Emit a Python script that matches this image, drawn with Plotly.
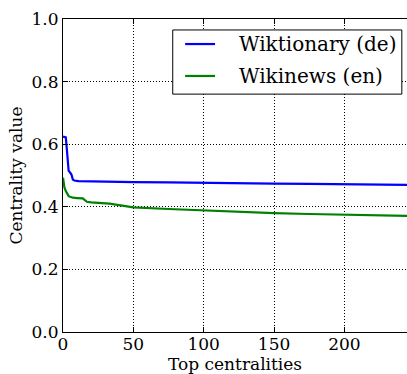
import plotly.graph_objects as go

# Data
wikt_x = [0, 1, 2, 3, 4, 5, 6, 7, 8, 11, 20, 33, 50, 75, 100, 125, 150, 175, 200, 225, 245]
wikt_y = [0.624, 0.624, 0.622, 0.57, 0.515, 0.51, 0.503, 0.487, 0.484, 0.482, 0.481, 0.480, 0.479, 0.478, 0.476, 0.475, 0.474, 0.473, 0.472, 0.471, 0.470]

news_x = [0, 1, 2, 3, 4, 5, 7, 10, 14, 17, 20, 33, 50, 75, 100, 125, 150, 175, 200, 225, 245]
news_y = [0.493, 0.462, 0.45, 0.44, 0.434, 0.432, 0.429, 0.428, 0.427, 0.416, 0.414, 0.410, 0.398, 0.393, 0.388, 0.384, 0.380, 0.377, 0.374, 0.372, 0.371]

names = ["Wiktionary (de)", "Wikinews (en)"]
colors = ["#0000ff", "#008000"]
x_ticks = [0, 50, 100, 150, 200]
y_ticks = [0.0, 0.2, 0.4, 0.6, 0.8, 1.0]
x_title = "Top centralities"
y_title = "Centrality value"

FONT = "DejaVu Serif"

fig = go.Figure()
for xs, ys, nm, c in [(wikt_x, wikt_y, names[0], colors[0]), (news_x, news_y, names[1], colors[1])]:
    fig.add_trace(go.Scatter(x=xs, y=ys, mode="lines", name=nm,
                             line=dict(color=c, width=2.2), showlegend=False))

# Matplotlib-style legend box drawn with shapes and text annotations
fig.add_shape(type="rect", xref="paper", yref="paper", x0=0.319, x1=0.985, y0=0.760, y1=0.965,
              line=dict(color="black", width=1), fillcolor="white", layer="above")
leg_y = [0.920, 0.818]
for i, (nm, c) in enumerate(zip(names, colors)):
    fig.add_shape(type="line", xref="paper", yref="paper", x0=0.355, x1=0.442,
                  y0=leg_y[i], y1=leg_y[i], line=dict(color=c, width=2.2), layer="above")
    fig.add_annotation(xref="paper", yref="paper", x=0.505, y=leg_y[i], text=nm,
                       showarrow=False, xanchor="left", yanchor="middle",
                       font=dict(family=FONT, size=20, color="black"))

# x-axis title as annotation for precise placement
fig.add_annotation(xref="paper", yref="paper", x=0.5, y=0, yshift=-20, text=x_title,
                   showarrow=False, xanchor="center", yanchor="top",
                   font=dict(family=FONT, size=17, color="black"))

fig.update_layout(
    width=407, height=374,
    margin=dict(l=63, r=0, t=19, b=42),
    paper_bgcolor="white", plot_bgcolor="white",
    font=dict(family=FONT, size=17, color="black"),
    showlegend=False,
    xaxis=dict(range=[0, 244.5], tickvals=x_ticks, ticks="inside", ticklen=5,
               tickcolor="black", showline=True, linecolor="black", linewidth=1,
               mirror="ticks", showgrid=True, gridcolor="black", griddash="1px,2px",
               gridwidth=1, zeroline=False, tickfont=dict(size=17),
               ticklabelstandoff=-3),
    yaxis=dict(range=[0, 1.0], tickvals=y_ticks, tickformat=".1f", ticks="inside",
               ticklen=5, tickcolor="black", showline=True, linecolor="black",
               linewidth=1, mirror=False, showgrid=True, gridcolor="black",
               griddash="1px,2px", gridwidth=1, zeroline=False,
               title=dict(text=y_title, standoff=4, font=dict(size=17)),
               tickfont=dict(size=17)),
)

fig.write_html("out.html")
